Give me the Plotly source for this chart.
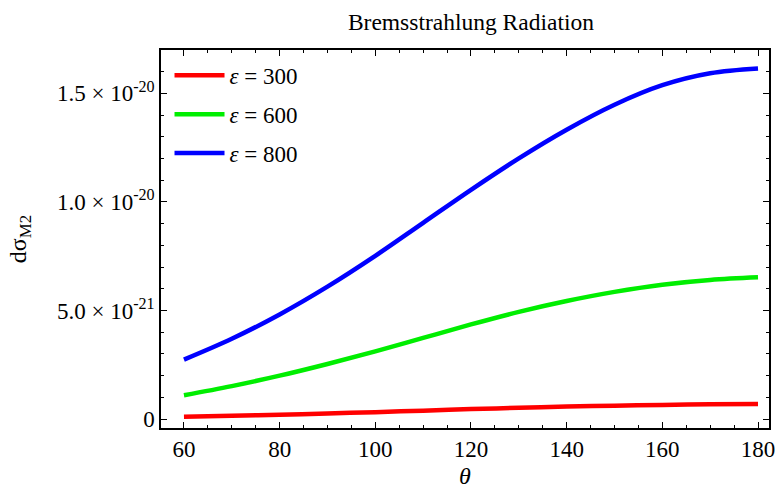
import plotly.graph_objects as go

theta = [60, 70, 80, 90, 100, 110, 120, 130, 140, 150, 160, 170, 180]
eps300 = [0.11, 0.15, 0.20, 0.26, 0.32, 0.39, 0.46, 0.52, 0.575, 0.62, 0.655, 0.68, 0.69]
eps600 = [1.10, 1.52, 2.00, 2.54, 3.12, 3.74, 4.36, 4.94, 5.44, 5.86, 6.19, 6.41, 6.53]
eps800 = [2.74, 3.70, 4.82, 6.10, 7.52, 9.04, 10.56, 12.01, 13.33, 14.48, 15.38, 15.93, 16.15]
scale = 1e-21

series_names = ["<i>ε</i> = 300", "<i>ε</i> = 600", "<i>ε</i> = 800"]
series_vals = [eps300, eps600, eps800]
colors = ["#ff0000", "#00ee00", "#0000ff"]

ytick_vals = [0, 5e-21, 1e-20, 1.5e-20]
ytick_text = ["0", "5.0 × 10<sup>-21</sup>", "1.0 × 10<sup>-20</sup>", "1.5 × 10<sup>-20</sup>"]
xtick_vals = [60, 80, 100, 120, 140, 160, 180]

font_family = "Liberation Serif"

fig = go.Figure()
for i, (name, vals, c) in enumerate(zip(series_names, series_vals, colors)):
    fig.add_trace(go.Scatter(
        x=theta, y=[v * scale for v in vals], mode="lines", name=name,
        line=dict(color=c, width=4.5, shape="spline", smoothing=1), legendgroup=f"g{i}"))

axis_common = dict(
    showline=True, linecolor="black", linewidth=1.5, mirror="allticks",
    ticks="inside", ticklen=6, tickwidth=1, tickcolor="black",
    showgrid=False, zeroline=False,
    tickfont=dict(family=font_family, size=23, color="black"),
)

fig.update_layout(
    width=781, height=491,
    margin=dict(l=161, r=6, t=50, b=60),
    paper_bgcolor="white", plot_bgcolor="white",
    title=dict(text="Bremsstrahlung Radiation", x=0.603, xanchor="center", y=0.955, yanchor="middle",
               font=dict(family=font_family, size=23.5, color="black")),
    font=dict(family=font_family, color="black"),
    showlegend=True,
    legend=dict(x=0.014, y=0.99, xanchor="left", yanchor="top",
                font=dict(family=font_family, size=23, color="black"),
                bgcolor="rgba(0,0,0,0)", tracegroupgap=6, itemwidth=50),
)

fig.update_xaxes(
    range=[55.2, 182.3], tickvals=xtick_vals,
    minor=dict(ticks="inside", dtick=5, ticklen=3.5, tickcolor="black", tickwidth=1),
    title=dict(text="<i>θ</i>", font=dict(family=font_family, size=24, color="black"), standoff=6),
    **axis_common)
fig.update_yaxes(
    range=[-0.41e-21, 1.70e-20], tickvals=ytick_vals, ticktext=ytick_text,
    minor=dict(ticks="inside", dtick=1e-21, ticklen=3.5, tickcolor="black", tickwidth=1),
    title=dict(text="dσ<sub>M2</sub>", font=dict(family=font_family, size=24, color="black"), standoff=24),
    **axis_common)

fig.write_html("out.html")
